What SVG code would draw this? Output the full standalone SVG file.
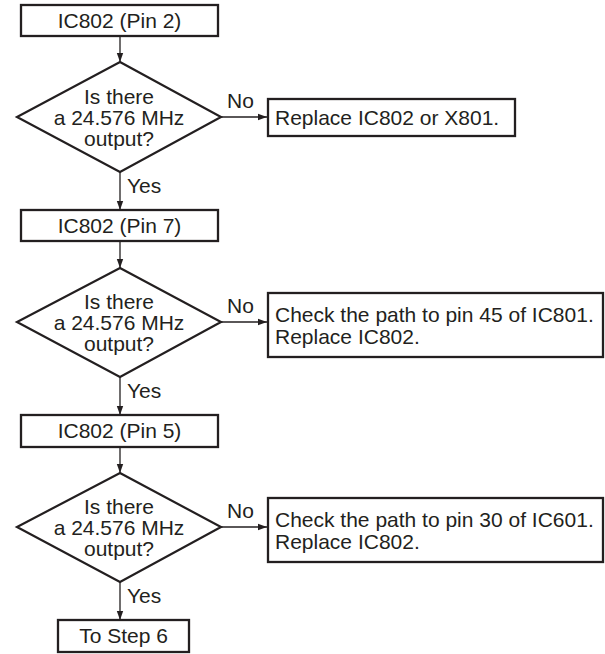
<svg xmlns="http://www.w3.org/2000/svg" width="605" height="654" viewBox="0 0 605 654">
<style>
.box{fill:#fff;stroke:#231f20;stroke-width:2.3}
.dia{fill:#fff;stroke:#231f20;stroke-width:2.2}
.t{font-family:"Liberation Sans",Arial,sans-serif;font-size:21px;fill:#231f20}
.c{text-anchor:middle}
.ln{fill:none;stroke:#231f20;stroke-width:1.3}
</style>
<defs>
<marker id="ah" markerUnits="userSpaceOnUse" markerWidth="10" markerHeight="8" refX="9" refY="4" orient="auto">
<path d="M0,0.8 L9,4 L0,7.2 Z" fill="#231f20"/>
</marker>
</defs>
<rect width="605" height="654" fill="#fff"/>
<g id="connectors">
<line class="ln" x1="120" y1="36" x2="120" y2="62" marker-end="url(#ah)"/>
<line class="ln" x1="221" y1="117" x2="267" y2="117" marker-end="url(#ah)"/>
<line class="ln" x1="120" y1="172" x2="120" y2="210" marker-end="url(#ah)"/>
<line class="ln" x1="120" y1="241" x2="120" y2="268" marker-end="url(#ah)"/>
<line class="ln" x1="221" y1="322" x2="267" y2="322" marker-end="url(#ah)"/>
<line class="ln" x1="120" y1="377" x2="120" y2="415" marker-end="url(#ah)"/>
<line class="ln" x1="120" y1="447" x2="120" y2="473" marker-end="url(#ah)"/>
<line class="ln" x1="221" y1="527" x2="267" y2="527" marker-end="url(#ah)"/>
<line class="ln" x1="120" y1="582" x2="120" y2="620" marker-end="url(#ah)"/>
<text class="t" x="227" y="108">No</text>
<text class="t" x="127" y="193">Yes</text>
<text class="t" x="227" y="313">No</text>
<text class="t" x="127" y="398">Yes</text>
<text class="t" x="227" y="518">No</text>
<text class="t" x="127" y="603">Yes</text>
</g>
<g id="n1">
<rect class="box" x="21" y="5" width="197" height="31"/>
<text class="t c" x="119.5" y="28">IC802 (Pin 2)</text>
</g>
<g id="d1">
<polygon class="dia" points="120,62 221,117 120,172 17,117"/>
<text class="t c" x="119" y="104">Is there</text>
<text class="t c" x="119" y="125">a 24.576 MHz</text>
<text class="t c" x="119" y="146">output?</text>
</g>
<g id="r1">
<rect class="box" x="268" y="99" width="247" height="37"/>
<text class="t" x="275" y="125">Replace IC802 or X801.</text>
</g>
<g id="n2">
<rect class="box" x="21" y="210" width="197" height="31"/>
<text class="t c" x="119.5" y="233">IC802 (Pin 7)</text>
</g>
<g id="d2">
<polygon class="dia" points="120,268 221,322 120,377 17,322"/>
<text class="t c" x="119" y="309">Is there</text>
<text class="t c" x="119" y="330">a 24.576 MHz</text>
<text class="t c" x="119" y="351">output?</text>
</g>
<g id="r2">
<rect class="box" x="268" y="293" width="335" height="64"/>
<text class="t" x="275" y="322">Check the path to pin 45 of IC801.</text>
<text class="t" x="275" y="344">Replace IC802.</text>
</g>
<g id="n3">
<rect class="box" x="21" y="415" width="197" height="32"/>
<text class="t c" x="119.5" y="438">IC802 (Pin 5)</text>
</g>
<g id="d3">
<polygon class="dia" points="120,473 221,527 120,582 17,527"/>
<text class="t c" x="119" y="514">Is there</text>
<text class="t c" x="119" y="535">a 24.576 MHz</text>
<text class="t c" x="119" y="556">output?</text>
</g>
<g id="r3">
<rect class="box" x="268" y="498" width="335" height="64"/>
<text class="t" x="275" y="527">Check the path to pin 30 of IC601.</text>
<text class="t" x="275" y="549">Replace IC802.</text>
</g>
<g id="n4">
<rect class="box" x="58" y="620" width="131" height="32"/>
<text class="t c" x="123.5" y="643">To Step 6</text>
</g>
</svg>
